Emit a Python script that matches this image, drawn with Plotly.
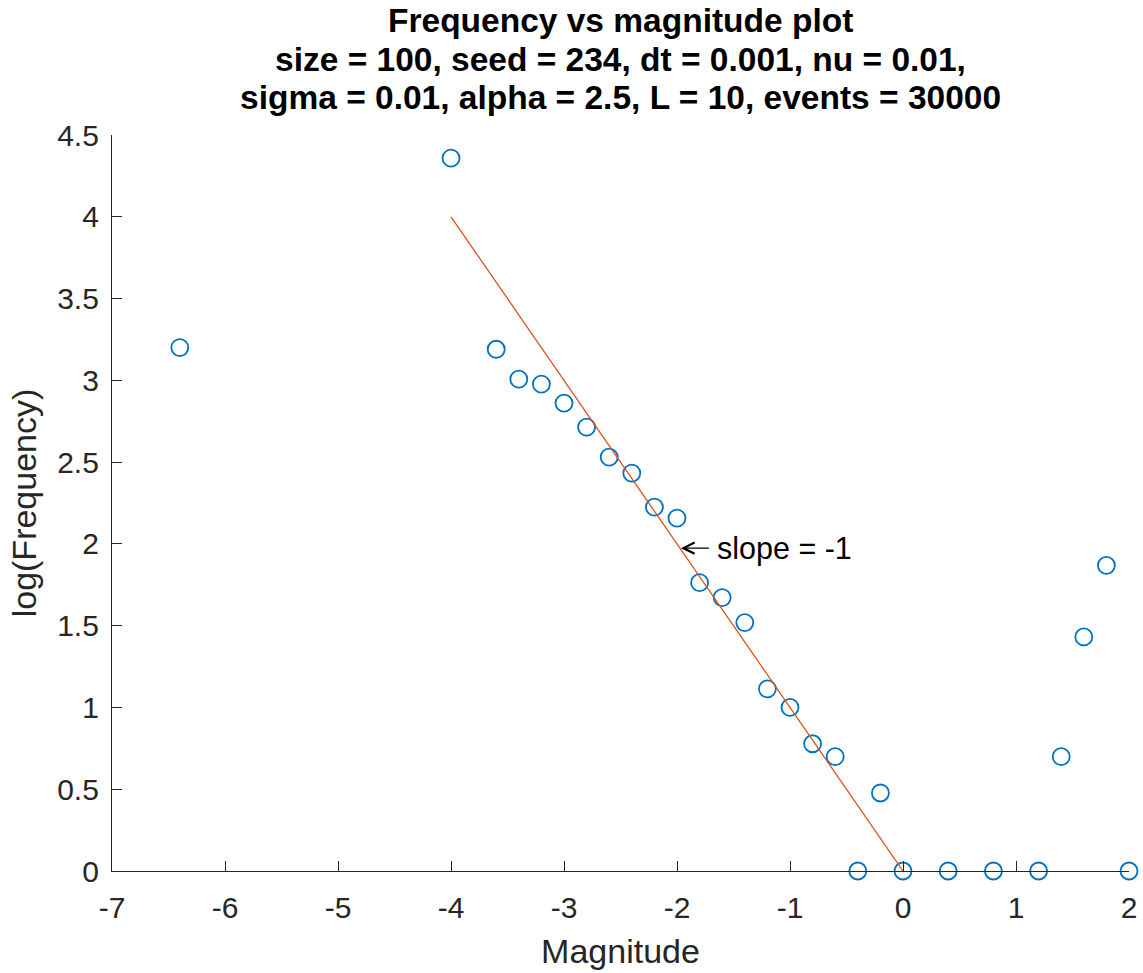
import plotly.graph_objects as go

# Data
magnitude = [-6.4, -4.0, -3.6, -3.4, -3.2, -3.0, -2.8, -2.6, -2.4, -2.2, -2.0,
             -1.8, -1.6, -1.4, -1.2, -1.0, -0.8, -0.6, -0.4, -0.2, 0.0,
             0.4, 0.8, 1.2, 1.4, 1.6, 1.8, 2.0]
log_freq = [3.20, 4.358, 3.19, 3.007, 2.977, 2.861, 2.714, 2.531, 2.433, 2.225, 2.158,
            1.763, 1.672, 1.519, 1.114, 1.0, 0.778, 0.699, 0.0, 0.477, 0.0,
            0.0, 0.0, 0.0, 0.699, 1.431, 1.869, 0.0]
fit_x = [-4, 0]
fit_y = [4, 0]

title_lines = ["Frequency vs magnitude plot",
               "size = 100, seed = 234, dt = 0.001, nu = 0.01,",
               "sigma = 0.01, alpha = 2.5, L = 10, events = 30000"]
x_ticks = [-7, -6, -5, -4, -3, -2, -1, 0, 1, 2]
x_tick_text = ["-7", "-6", "-5", "-4", "-3", "-2", "-1", "0", "1", "2"]
y_ticks = [0, 0.5, 1, 1.5, 2, 2.5, 3, 3.5, 4, 4.5]
y_tick_text = ["0", "0.5", "1", "1.5", "2", "2.5", "3", "3.5", "4", "4.5"]

FONT = "Liberation Sans, Arial, Helvetica, sans-serif"
AX = "#262626"

fig = go.Figure()
fig.add_trace(go.Scatter(
    x=magnitude, y=log_freq, mode="markers",
    marker=dict(symbol="circle-open", size=17, color="#0072BD",
                line=dict(width=1.8, color="#0072BD")),
    cliponaxis=False, showlegend=False))
fig.add_trace(go.Scatter(
    x=fit_x, y=fit_y, mode="lines",
    line=dict(color="#D95319", width=1.3),
    cliponaxis=False, showlegend=False))

# Title lines (pixel-tuned spacing)
title_y = [1.1562, 1.1026, 1.0516]
for txt, yy in zip(title_lines, title_y):
    fig.add_annotation(text="<b>%s</b>" % txt, xref="paper", yref="paper",
                       x=0.5, y=yy, xanchor="center", yanchor="middle",
                       showarrow=False, font=dict(family=FONT, size=33.5, color="#000000"))

# slope annotation
fig.add_annotation(text="slope = -1", x=-1.965, y=1.974, xref="x", yref="y",
                   showarrow=True, arrowhead=5, arrowsize=2, arrowwidth=1.1,
                   arrowcolor="#000000", ax=104, ay=0, standoff=0, borderpad=8,
                   font=dict(family=FONT, size=30.5, color="#000000"))

fig.update_layout(
    width=1143, height=973,
    margin=dict(l=112, r=14, t=135, b=102, autoexpand=False),
    paper_bgcolor="white", plot_bgcolor="white",
    font=dict(family=FONT, size=29, color=AX),
)
fig.update_xaxes(
    range=[-7, 2], tickvals=x_ticks, ticktext=x_tick_text, ticks="inside", ticklen=10,
    tickwidth=1.3, automargin=False,
    tickcolor=AX, showline=True, linecolor=AX, linewidth=1.3, showgrid=False,
    zeroline=False, mirror=False, ticklabelstandoff=10,
    title=dict(text="Magnitude", font=dict(family=FONT, size=34, color=AX), standoff=16),
    tickfont=dict(family=FONT, size=30, color=AX))
fig.update_yaxes(
    range=[0, 4.5], tickvals=y_ticks, ticktext=y_tick_text, ticks="inside", ticklen=10,
    tickwidth=1.3, automargin=False, tickcolor=AX, showline=True, linecolor=AX, linewidth=1.3,
    showgrid=False, zeroline=False, mirror=False, ticklabelstandoff=6,
    title=dict(text="log(Frequency)", font=dict(family=FONT, size=34, color=AX), standoff=10),
    tickfont=dict(family=FONT, size=30, color=AX))

fig.write_html("out.html")
